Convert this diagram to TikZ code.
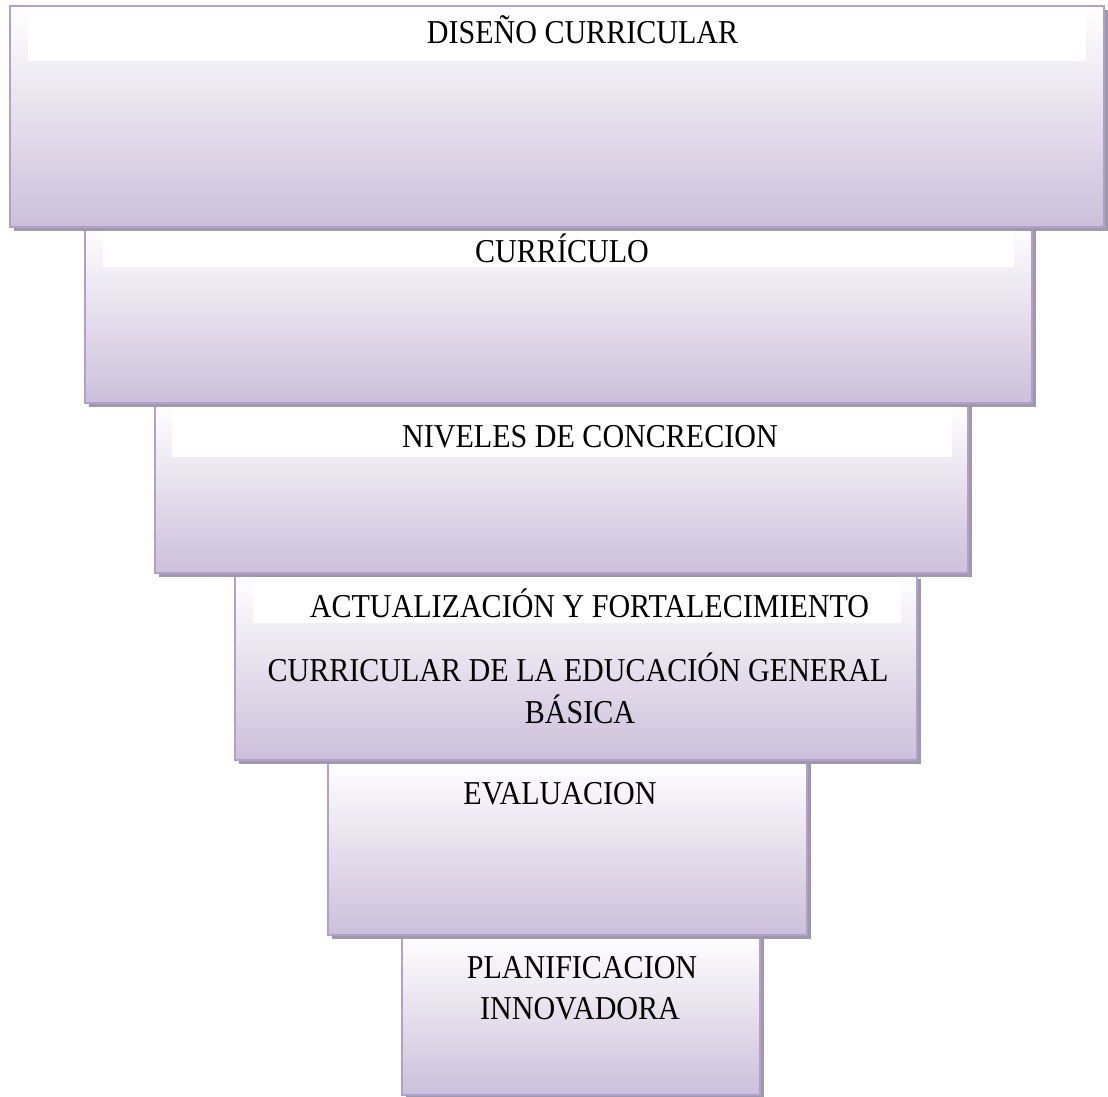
\documentclass[tikz,border=0pt]{standalone}
\usepackage{fontspec}
\setmainfont[FakeStretch=0.9]{Liberation Serif}
\usetikzlibrary{shadows}
\definecolor{lavborde}{HTML}{B1A0CD}
\definecolor{lavfondo}{HTML}{CDBFDA}
\definecolor{lavsombra}{HTML}{A099AB}
\tikzset{
    nivel/.style={draw=lavborde, line width=1.5pt, top color=white, bottom color=lavfondo,
        inner sep=0pt, drop shadow={shadow xshift=0.08cm, shadow yshift=-0.08cm, fill=lavsombra, opacity=1}},
    fondo/.style={fill=white, inner sep=0pt},
    nivtxt/.style={anchor=base, inner sep=0pt, font=\fontsize{19}{22}\selectfont}
}
\begin{document}
\begin{tikzpicture}[x=0.02cm, y=-0.02cm]
    \useasboundingbox (0,0) rectangle (1108,1097);
    % niveles, de abajo hacia arriba
    \draw
    (581,1015)node(pla)[nivel, minimum width=7.16cm, minimum height=3.2cm]{}
    (567.5,847.5)node(eva)[nivel, minimum width=9.58cm, minimum height=3.5cm]{}
    (576,667.5)node(act)[nivel, minimum width=13.64cm, minimum height=3.7cm]{}
    (577,601)node(actf)[fondo, minimum width=12.96cm, minimum height=0.88cm]{}
    (561.5,488)node(niv)[nivel, minimum width=16.26cm, minimum height=3.4cm]{}
    (562,432)node(nivf)[fondo, minimum width=15.6cm, minimum height=1.0cm]{}
    (558.5,313)node(cur)[nivel, minimum width=18.94cm, minimum height=3.6cm]{}
    (558.5,247)node(curf)[fondo, minimum width=18.22cm, minimum height=0.8cm]{}
    (557,116.5)node(dis)[nivel, minimum width=21.88cm, minimum height=4.42cm]{}
    (557,35)node(disf)[fondo, minimum width=21.16cm, minimum height=1.04cm]{};
    %
    \node(dist)[nivtxt] at (582.5,44){DISEÑO CURRICULAR};
    \node(curt)[nivtxt] at (562,263){CURRÍCULO};
    \node(nivt)[nivtxt] at (590,448){NIVELES DE CONCRECION};
    \node(actt1)[nivtxt] at (589.5,617){ACTUALIZACIÓN Y FORTALECIMIENTO};
    \node(actt2)[nivtxt] at (578,681){CURRICULAR DE LA EDUCACIÓN GENERAL};
    \node(actt3)[nivtxt] at (580,723){BÁSICA};
    \node(evat)[nivtxt] at (560,804){EVALUACION};
    \node(plat1)[nivtxt] at (582,978){PLANIFICACION};
    \node(plat2)[nivtxt] at (580,1019){INNOVADORA};
\end{tikzpicture}
\end{document}
